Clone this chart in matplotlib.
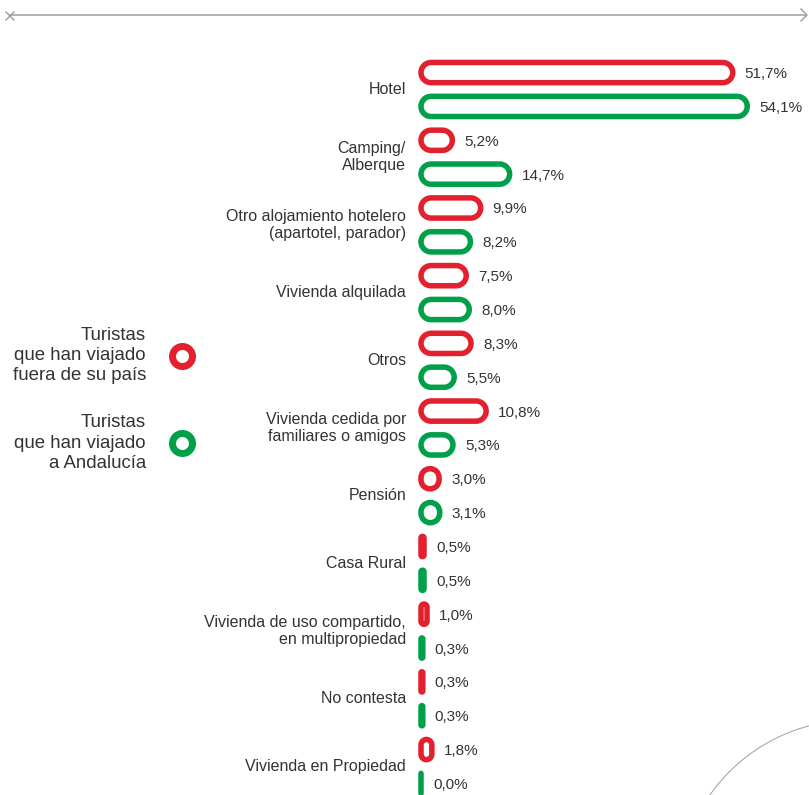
import matplotlib
matplotlib.use('Agg')
import numpy as np
import matplotlib.pyplot as plt
from matplotlib.patches import PathPatch, Circle
from matplotlib.path import Path
from matplotlib.lines import Line2D
import matplotlib.transforms as mtransforms

# ---------------- data ----------------
categories = [
    "Hotel",
    "Camping/\nAlberque",
    "Otro alojamiento hotelero\n(apartotel, parador)",
    "Vivienda alquilada",
    "Otros",
    "Vivienda cedida por\nfamiliares o amigos",
    "Pensión",
    "Casa Rural",
    "Vivienda de uso compartido,\nen multipropiedad",
    "No contesta",
    "Vivienda en Propiedad",
]
fuera_pais = [51.7, 5.2, 9.9, 7.5, 8.3, 10.8, 3.0, 0.5, 1.0, 0.3, 1.8]
andalucia = [54.1, 14.7, 8.2, 8.0, 5.5, 5.3, 3.1, 0.5, 0.3, 0.3, 0.0]
series_names = ["Turistas\nque han viajado\nfuera de su país",
                "Turistas\nque han viajado\na Andalucía"]
series_colors = ["#E3202E", "#00A04A"]

# ---------------- layout ----------------
W, H, DPI = 809, 795, 100
fig = plt.figure(figsize=(W / DPI, H / DPI), dpi=DPI)
fig.patch.set_facecolor("white")
ax = fig.add_axes([0, 0, 1, 1])

SX = 6.03      # px per percent
X0 = 421.0     # px of 0 %
ROW0 = 89.5    # px of first category centre
SY = 67.7      # px per category
ax.set_xlim(-X0 / SX, (W - X0) / SX)
ax.set_ylim((H - ROW0) / SY, -ROW0 / SY)
ax.axis("off")

PT = 72.0 / DPI          # points per pixel
BAR_H_PX = 20.2
STROKE_PX = 5.5
bar_h = BAR_H_PX / SY

TEXT_COL = "#333333"
LABEL_FONT = ["Liberation Sans", "DejaVu Sans"]

_arc_cache = {}


def unit_arc(t1, t2):
    key = (t1, t2)
    if key not in _arc_cache:
        a = Path.arc(t1, t2)
        _arc_cache[key] = (a.vertices[1:].copy(), list(a.codes[1:]))
    return _arc_cache[key]


def rounded_path(x0, y0, w, h, r_px):
    """Rounded rectangle in data units with circular corners of r_px pixels."""
    rx, ry = r_px / SX, r_px / SY
    x1, y1 = x0 + w, y0 + h
    verts = [(x0 + rx, y0)]
    codes = [Path.MOVETO]
    corners = [((x1 - rx, y0), (x1 - rx, y0 + ry), -90, 0, (x1, y1 - ry)),
               ((x1, y1 - ry), (x1 - rx, y1 - ry), 0, 90, (x0 + rx, y1)),
               ((x0 + rx, y1), (x0 + rx, y1 - ry), 90, 180, (x0, y0 + ry)),
               ((x0, y0 + ry), (x0 + rx, y0 + ry), 180, 270, None)]
    for line_end, centre, t1, t2, _ in corners:
        verts.append(line_end)
        codes.append(Path.LINETO)
        av, ac = unit_arc(t1, t2)
        for vx, vy in av:
            verts.append((centre[0] + vx * rx, centre[1] + vy * ry))
        codes.extend(ac)
    verts.append((x0 + rx, y0))
    codes.append(Path.CLOSEPOLY)
    return Path(np.array(verts), codes)


def pct(v):
    return f"{v:.1f}".replace(".", ",") + "%"


def pill(value, yc, color):
    w_px = value * SX
    r_px = min(w_px, BAR_H_PX) / 2.0
    path = rounded_path(0, yc - bar_h / 2, value, bar_h, r_px)
    ax.add_patch(PathPatch(path, facecolor="white", edgecolor=color,
                           linewidth=STROKE_PX * PT, joinstyle="round",
                           capstyle="round"))
    ax.annotate(pct(value), xy=(value, yc), xytext=(12.0 * PT, 0),
                textcoords="offset points", ha="left", va="center_baseline",
                fontsize=11, color=TEXT_COL, family=LABEL_FONT)


for i, (cat, a, b) in enumerate(zip(categories, fuera_pais, andalucia)):
    pill(a, i - 0.25, series_colors[0])
    pill(b, i + 0.25, series_colors[1])
    ax.annotate(cat, xy=(0, i), xytext=(-15.0 * PT, 0),
                textcoords="offset points", ha="right", va="center",
                fontsize=11.5, color=TEXT_COL, family=LABEL_FONT,
                multialignment="right", linespacing=1.15)

# ---------------- pixel-space decorations ----------------
pix = mtransforms.Affine2D().scale(1, -1).translate(0, H)

# legend
legend_y = [355.5, 443.0]
for name, col, ly in zip(series_names, series_colors, legend_y):
    fig.add_artist(Line2D([182], [ly], transform=pix, marker="o",
                          markersize=20 * PT, markerfacecolor="white",
                          markeredgecolor=col, markeredgewidth=7 * PT,
                          linestyle="none"))
    fig.text(146, ly, name, transform=pix, ha="right", va="center",
             fontsize=13.4, color=TEXT_COL, family=LABEL_FONT,
             multialignment="right", linespacing=1.25)

# top rule with cross and chevron
grey = "#9c9c9c"
fig.add_artist(Line2D([10, 806], [15, 15], transform=pix, color=grey,
                      linewidth=1.5 * PT))
fig.add_artist(Line2D([9], [15], transform=pix, marker="x", markersize=9 * PT,
                      markeredgewidth=1.4 * PT, color=grey, linestyle="none"))
fig.add_artist(Line2D([801, 807, 801], [9, 15, 21], transform=pix, color=grey,
                      linewidth=1.4 * PT))

# decorative arc bottom-right
fig.add_artist(Circle((854, 896), 176, transform=pix, fill=False,
                      edgecolor="#a0a0a0", linewidth=1.0 * PT))

fig.savefig("out.png", dpi=DPI, facecolor="white")
